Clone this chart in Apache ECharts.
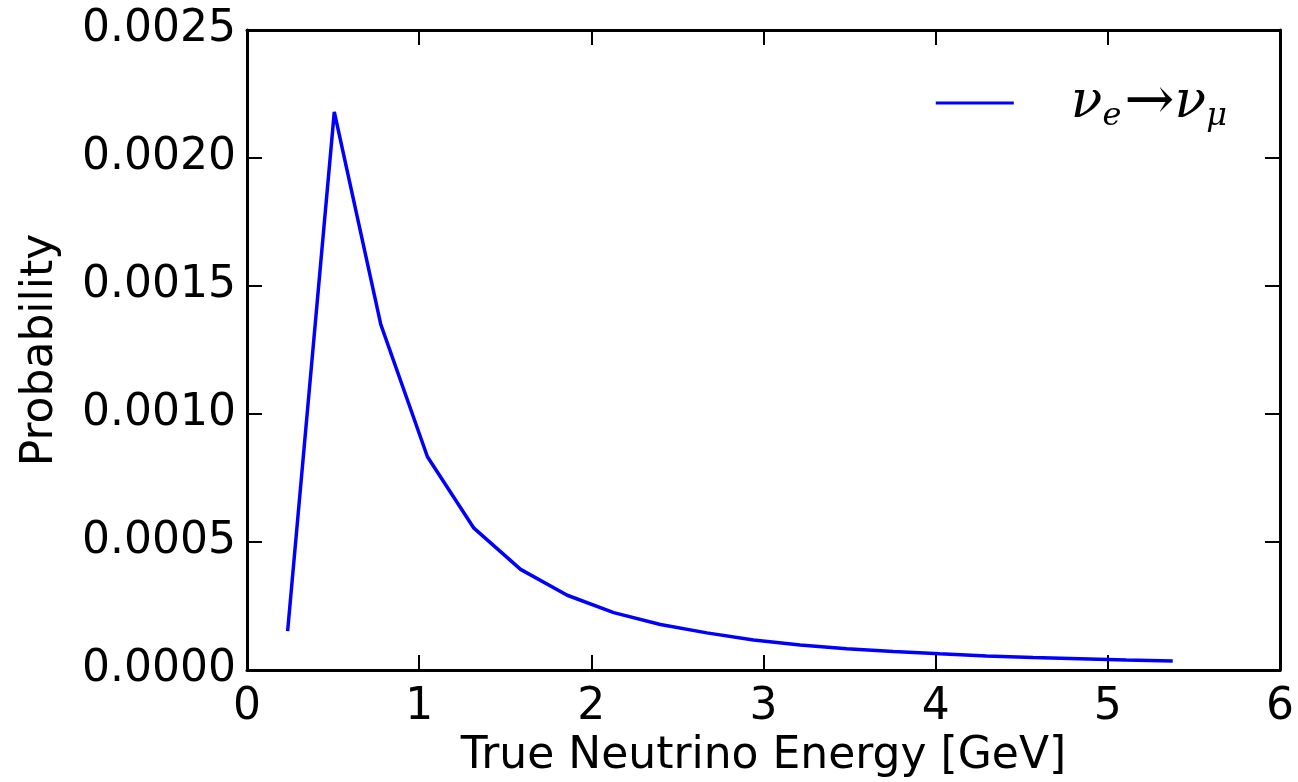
<!DOCTYPE html>
<html>
<head>
<meta charset="utf-8">
<script src="https://cdn.jsdelivr.net/npm/echarts@6/dist/echarts.min.js"></script>
<style>
html,body{margin:0;padding:0;background:#fff;}
#chart{width:1298px;height:782px;}
</style>
</head>
<body>
<div id="chart"></div>
<script>
// Data
const energies = [0.236, 0.507, 0.777, 1.048, 1.318, 1.589, 1.860, 2.130, 2.401, 2.671,
                  2.942, 3.213, 3.483, 3.754, 4.024, 4.295, 4.565, 4.836, 5.106, 5.377];
const probability = [0.000152, 0.00218, 0.00135, 0.000833, 0.000554, 0.000393, 0.000292, 0.000224, 0.000178, 0.000145,
                     0.000117, 0.0000977, 0.0000833, 0.000072, 0.000063, 0.000055, 0.000049, 0.000044, 0.000039, 0.000035];
const seriesName = 'nue_numu';
const xTitle = 'True Neutrino Energy [GeV]';
const yTitle = 'Probability';

const chart = echarts.init(document.getElementById('chart'), null, {renderer: 'canvas'});
const font = 'DejaVu Sans';
const axisCommon = {
  axisLine: {show: true, onZero: false, lineStyle: {color: '#000', width: 3}},
  axisTick: {show: true, inside: true, length: 15, lineStyle: {color: '#000', width: 2}},
  splitLine: {show: false}
};
chart.setOption({
  animation: false,
  backgroundColor: '#fff',
  grid: {left: 247, top: 30, right: 18, bottom: 112, containLabel: false, outerBoundsMode: 'none'},
  legend: {
    show: true,
    right: 66, top: 68,
    icon: 'rect',
    itemWidth: 78, itemHeight: 3,
    data: [seriesName],
    formatter: function () { return '{sp|}{nu|ν}{sub|e}{ar|→}{nu|ν}{sub|μ}'; },
    textStyle: {
      rich: {
        sp: {width: 52},
        nu: {fontFamily: 'DejaVu Serif', fontStyle: 'italic', fontSize: 52, color: '#000'},
        sub: {fontFamily: 'DejaVu Serif', fontStyle: 'italic', fontSize: 32, color: '#000', verticalAlign: 'bottom', padding: [28, 3, 0, 0]},
        ar: {fontFamily: 'DejaVu Serif', fontSize: 60, color: '#000'}
      }
    }
  },
  xAxis: [
    Object.assign({
      type: 'value', min: 0, max: 6, interval: 1, position: 'bottom',
      name: xTitle, nameLocation: 'middle', nameGap: 64,
      nameTextStyle: {fontFamily: font, fontSize: 44, color: '#000'},
      axisLabel: {fontFamily: font, fontSize: 44, color: '#000', margin: 16}
    }, axisCommon),
    Object.assign({
      type: 'value', min: 0, max: 6, interval: 1, position: 'top',
      axisLabel: {show: false}
    }, axisCommon)
  ],
  yAxis: [
    Object.assign({
      type: 'value', min: 0, max: 0.0025, interval: 0.0005, position: 'left',
      name: yTitle, nameLocation: 'middle', nameGap: 184,
      nameTextStyle: {fontFamily: font, fontSize: 44, color: '#000'},
      axisLabel: {fontFamily: font, fontSize: 44, color: '#000', margin: 11,
                  formatter: v => v.toFixed(4)}
    }, axisCommon),
    Object.assign({
      type: 'value', min: 0, max: 0.0025, interval: 0.0005, position: 'right',
      axisLabel: {show: false}
    }, axisCommon)
  ],
  series: [{
    name: seriesName,
    type: 'line',
    xAxisIndex: 0, yAxisIndex: 0,
    data: energies.map((e, i) => [e, probability[i]]),
    showSymbol: false,
    symbol: 'none',
    lineStyle: {color: '#0000ff', width: 3.5},
    itemStyle: {color: '#0000ff'}
  }]
});
</script>
</body>
</html>
